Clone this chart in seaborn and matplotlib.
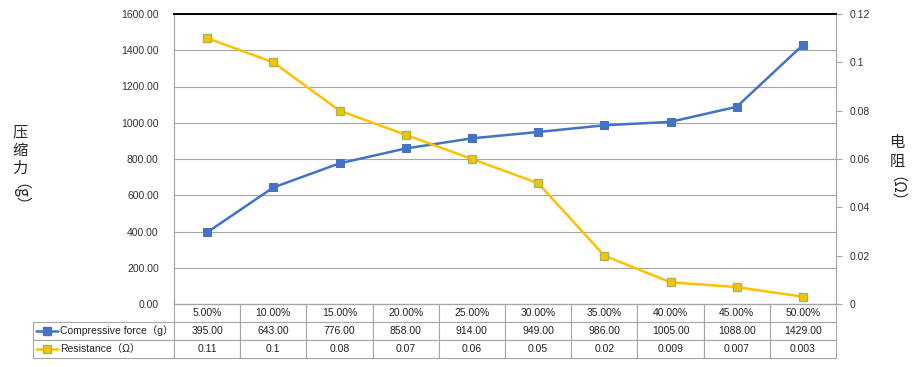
import matplotlib
matplotlib.use("Agg")
import matplotlib.pyplot as plt
from matplotlib.lines import Line2D
import seaborn as sns
import pandas as pd

# data
strain = ["5.00%", "10.00%", "15.00%", "20.00%", "25.00%",
          "30.00%", "35.00%", "40.00%", "45.00%", "50.00%"]
force = [395, 643, 776, 858, 914, 949, 986, 1005, 1088, 1429]
resistance = [0.11, 0.1, 0.08, 0.07, 0.06, 0.05, 0.02, 0.009, 0.007, 0.003]
force_labels = ["395.00", "643.00", "776.00", "858.00", "914.00",
                "949.00", "986.00", "1005.00", "1088.00", "1429.00"]
res_labels = ["0.11", "0.1", "0.08", "0.07", "0.06",
              "0.05", "0.02", "0.009", "0.007", "0.003"]
row_names = ["Compressive force（g）", "Resistance（Ω）"]

blue = "#4472C4"
yellow = "#FFC000"
grid_c = "#A6A6A6"

df = pd.DataFrame({"strain": strain, "force": force, "resistance": resistance})
df["pos"] = range(len(df))

sns.set_style("white")
plt.rcParams["font.family"] = ["Liberation Sans", "Noto Sans CJK SC", "DejaVu Sans"]

fig = plt.figure(figsize=(9.22, 3.67), dpi=100)
ax = fig.add_axes([174 / 922, 1 - 304 / 367, 662 / 922, 290 / 367])
ax2 = ax.twinx()

sns.lineplot(data=df, x="pos", y="force", ax=ax, color=blue, lw=1.8,
             marker="s", markersize=6, markeredgecolor=blue, zorder=3)
sns.lineplot(data=df, x="pos", y="resistance", ax=ax2, color=yellow, lw=1.8,
             marker="s", markersize=6, markerfacecolor=yellow,
             markeredgecolor="#9BBB59", markeredgewidth=1, zorder=3)

ax.set_xlim(-0.5, len(strain) - 0.5)
ax.set_ylim(0, 1600)
ax.set_yticks(range(0, 1601, 200))
ax.set_yticklabels([f"{v:.2f}" for v in range(0, 1601, 200)], fontsize=7.5, color="#333333")
ax.yaxis.grid(True, color=grid_c, lw=0.8)
ax.set_axisbelow(True)
ax.set_xticks([])
ax.set_xlabel("")
ax.set_ylabel("")
ax.tick_params(axis="y", length=0, pad=11)

ax2.set_ylim(0, 0.12)
rticks = [0, 0.02, 0.04, 0.06, 0.08, 0.1, 0.12]
ax2.set_yticks(rticks)
ax2.set_yticklabels(["0", "0.02", "0.04", "0.06", "0.08", "0.1", "0.12"],
                    fontsize=7.5, color="#333333")
ax2.tick_params(axis="y", length=4, width=0.8, color=grid_c, pad=6)
ax2.set_ylabel("")
ax2.set_xlabel("")

for a in (ax, ax2):
    for side in ("left", "right", "bottom"):
        a.spines[side].set_color(grid_c)
        a.spines[side].set_linewidth(0.8)
    a.spines["top"].set_color("black")
    a.spines["top"].set_linewidth(1.2)

# data table under the plot
lab_w = 141 / 662
row_h = 18 / 290
cells = [[""] + strain, [""] + force_labels, [""] + res_labels]
tbl = ax.table(cellText=cells, cellLoc="center",
               colWidths=[lab_w] + [0.1] * len(strain),
               bbox=[-lab_w, -3 * row_h, 1 + lab_w, 3 * row_h])
tbl.auto_set_font_size(False)
for (r, c), cell in tbl.get_celld().items():
    cell.set_edgecolor(grid_c)
    cell.set_linewidth(0.8)
    cell.get_text().set_fontsize(7.5)
    cell.get_text().set_color("#222222")
    if r == 0 and c == 0:
        cell.set_visible(False)

# row names with legend glyphs
for ypx, col, edge, name in [(331, blue, blue, row_names[0]),
                             (349, yellow, "#9BBB59", row_names[1])]:
    y = 1 - ypx / 367
    fig.add_artist(Line2D([36 / 922, 58 / 922], [y, y], transform=fig.transFigure,
                          color=col, lw=1.8))
    fig.add_artist(Line2D([47 / 922], [y], transform=fig.transFigure, marker="s",
                          markersize=6, color=col, markerfacecolor=col,
                          markeredgecolor=edge, lw=0))
    fig.text(60 / 922, y, name, ha="left", va="center", fontsize=7.5, color="#222222")

cjk = ["Noto Sans CJK SC", "DejaVu Sans"]
fig.text(20 / 922, 1 - 150 / 367, "压\n缩\n力", ha="center", va="center",
         fontsize=11, family=cjk, linespacing=1.1)
fig.text(12 / 922, 1 - 203 / 367, "（g）", ha="center", va="center",
         fontsize=11, family=cjk, rotation=-90)
fig.text(897 / 922, 1 - 152 / 367, "电\n阻", ha="center", va="center",
         fontsize=11, family=cjk, linespacing=1.1)
fig.text(888 / 922, 1 - 197 / 367, "（Ω）", ha="center", va="center",
         fontsize=11, family=cjk, rotation=-90)

fig.savefig("out.png", dpi=100)
